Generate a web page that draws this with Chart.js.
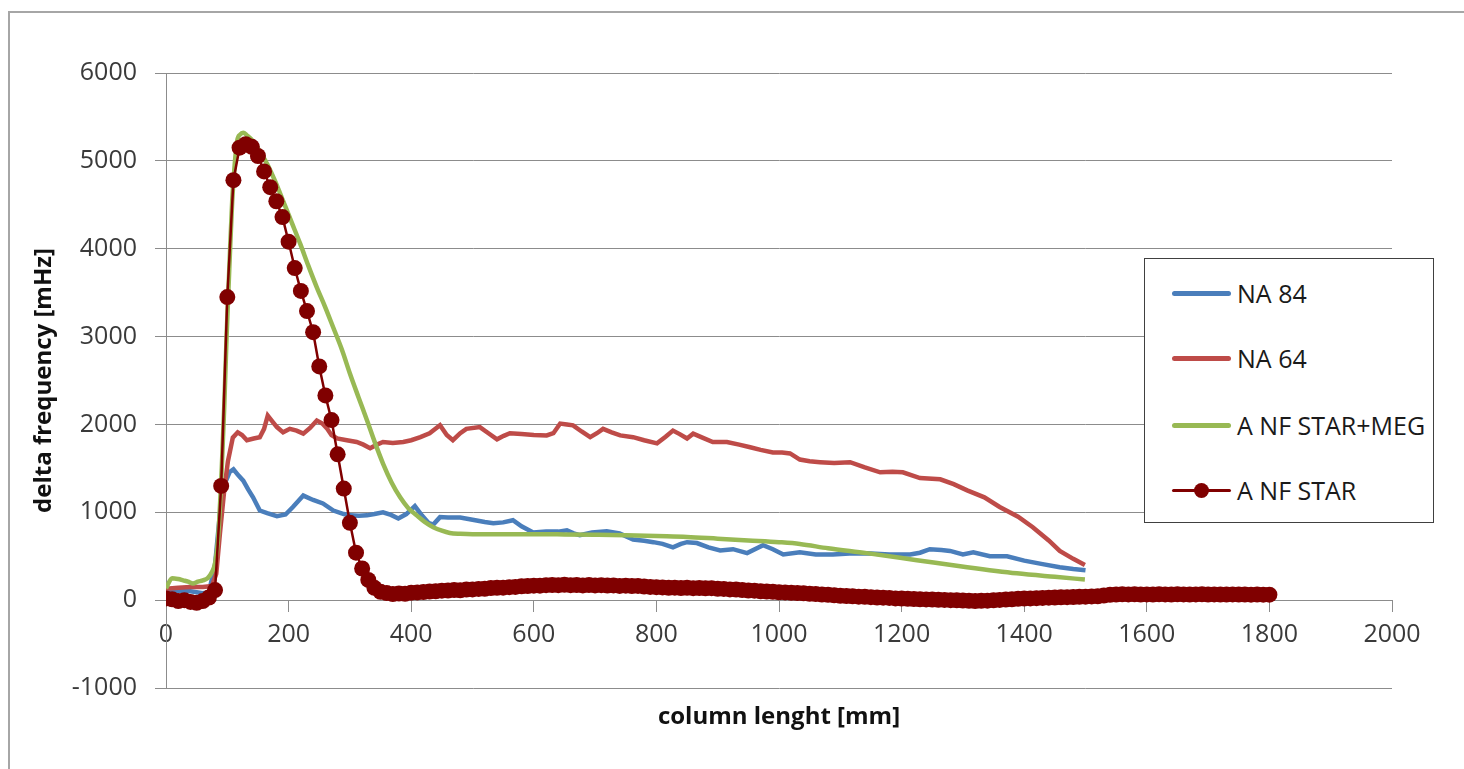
<!DOCTYPE html>
<html>
<head>
<meta charset="utf-8">
<script src="https://cdn.jsdelivr.net/npm/chart.js@4.4.1/dist/chart.umd.min.js"></script>
<style>
  html, body { margin: 0; padding: 0; background: #fff; overflow: hidden; }
  #wrap { position: relative; width: 1464px; height: 769px; }
  #frame { position: absolute; left: 8px; top: 11px; width: 1500px; height: 800px; border: 2px solid #a6a6a6; }
  #chart { position: absolute; left: 0; top: 0; }
  #legend {
    position: absolute; left: 1144px; top: 258px; width: 288px; height: 263px;
    border: 1.5px solid #404040; background: #fff;
    font-family: 'Open Sans', sans-serif; font-size: 25px; color: #1a1a1a;
  }
  .item { position: absolute; left: 27px; height: 34px; display: flex; align-items: center; }
  .swatch { position: relative; width: 59px; height: 34px; margin-right: 6px; }
  .swatch .ln { position: absolute; left: 0; right: 0; top: 50%; border-radius: 3px; }
  .swatch .dot { position: absolute; left: 50%; top: 50%; border-radius: 50%; }
</style>
</head>
<body>
<div id="wrap">
  <div id="frame"></div>
  <canvas id="chart" width="1464" height="769"></canvas>
  <div id="legend"></div>
</div>
<script>
// NA 84
const na84X = [0, 20, 40, 60, 70, 80, 88, 96, 104, 110, 118, 126, 134, 142, 153, 165, 181, 195, 207, 224,
  240, 256, 273, 290, 300, 315, 328, 340, 354, 367, 379, 392, 406, 418, 428, 436, 447, 460, 480, 500,
  520, 534, 550, 566, 580, 599, 620, 640, 654, 665, 675, 695, 719, 740, 762, 780, 795, 810, 827, 840,
  850, 866, 885, 904, 925, 948, 974, 990, 1007, 1034, 1060, 1088, 1115, 1143, 1180, 1214, 1230, 1246, 1265, 1279,
  1300, 1317, 1344, 1372, 1400, 1430, 1458, 1480, 1500];
const na84Y = [100, 110, 100, 80, 90, 400, 990, 1330, 1460, 1490, 1420, 1360, 1260, 1170, 1020, 990, 955, 975, 1060, 1190,
  1140, 1100, 1020, 980, 965, 960, 965, 980, 1000, 970, 930, 980, 1070, 960, 880, 860, 945, 940, 940, 915,
  890, 875, 885, 910, 840, 770, 780, 780, 795, 760, 740, 770, 785, 760, 690, 675, 660, 640, 600, 640,
  660, 650, 600, 565, 580, 535, 625, 580, 520, 545, 520, 520, 530, 535, 520, 520, 540, 580, 570, 560,
  520, 545, 500, 500, 450, 410, 375, 355, 340];

// NA 64
const na64X = [0, 20, 40, 60, 75, 82, 88, 95, 101, 109, 117, 124, 132, 143, 153, 160, 166, 174, 181, 191,
  202, 213, 224, 235, 246, 255, 263, 270, 279, 295, 311, 322, 333, 344, 354, 370, 387, 400, 415, 430,
  447, 458, 468, 480, 490, 512, 526, 540, 551, 561, 580, 600, 621, 632, 643, 654, 664, 678, 692, 703,
  713, 727, 741, 762, 780, 801, 815, 827, 838, 850, 860, 875, 892, 915, 935, 953, 970, 990, 1005, 1018,
  1034, 1050, 1067, 1090, 1116, 1140, 1165, 1185, 1202, 1230, 1263, 1285, 1307, 1335, 1360, 1390, 1414, 1440, 1458, 1480,
  1499];
const na64Y = [130, 140, 150, 150, 160, 300, 760, 1250, 1580, 1850, 1910, 1880, 1820, 1840, 1855, 1950, 2100, 2030, 1970, 1910,
  1950, 1930, 1895, 1960, 2045, 2010, 1950, 1880, 1840, 1820, 1800, 1770, 1730, 1770, 1800, 1790, 1800, 1820, 1855, 1900,
  1990, 1880, 1820, 1900, 1950, 1970, 1900, 1830, 1870, 1900, 1890, 1880, 1875, 1900, 2010, 2000, 1990, 1920, 1855, 1900,
  1950, 1910, 1875, 1855, 1820, 1785, 1860, 1930, 1890, 1840, 1895, 1850, 1800, 1800, 1770, 1740, 1710, 1680, 1680, 1670,
  1600, 1580, 1570, 1560, 1570, 1510, 1455, 1460, 1455, 1390, 1375, 1320, 1250, 1170, 1060, 950, 830, 680, 560, 470,
  400];

// A NF STAR+MEG
const megX = [0, 10, 20, 28, 36, 44, 52, 60, 68, 75, 80, 85, 91, 95, 99, 104, 108, 112, 116, 121,
  126, 132, 142, 153, 165, 178, 191, 205, 219, 232, 246, 260, 273, 287, 300, 314, 328, 341, 354, 368,
  382, 395, 409, 422, 436, 450, 463, 480, 500, 550, 600, 650, 700, 750, 800, 850, 900, 950, 1000, 1034,
  1080, 1143, 1225, 1307, 1388, 1450, 1499];
const megY = [135, 250, 240, 225, 210, 190, 210, 225, 250, 320, 420, 700, 1510, 2200, 3030, 3900, 4545, 4950, 5225, 5300,
  5320, 5290, 5225, 5110, 4965, 4770, 4545, 4300, 4055, 3810, 3560, 3330, 3100, 2850, 2580, 2310, 2045, 1790, 1555, 1340,
  1170, 1050, 965, 890, 830, 790, 765, 755, 750, 750, 750, 748, 745, 740, 730, 720, 700, 680, 660, 640,
  590, 535, 455, 375, 305, 265, 235];

// A NF STAR
const starX = [
  0, 10, 20, 30, 40, 50, 60, 70, 80, 90,
  100, 110, 120, 130, 140, 150, 160, 170, 180, 190,
  200, 210, 220, 230, 240, 250, 260, 270, 280, 290,
  300, 310, 320, 330, 340, 350, 360, 370, 380, 390,
  400, 410, 420, 430, 440, 450, 460, 470, 480, 490,
  500, 510, 520, 530, 540, 550, 560, 570, 580, 590,
  600, 610, 620, 630, 640, 650, 660, 670, 680, 690,
  700, 710, 720, 730, 740, 750, 760, 770, 780, 790,
  800, 810, 820, 830, 840, 850, 860, 870, 880, 890,
  900, 910, 920, 930, 940, 950, 960, 970, 980, 990,
  1000, 1010, 1020, 1030, 1040, 1050, 1060, 1070, 1080, 1090,
  1100, 1110, 1120, 1130, 1140, 1150, 1160, 1170, 1180, 1190,
  1200, 1210, 1220, 1230, 1240, 1250, 1260, 1270, 1280, 1290,
  1300, 1310, 1320, 1330, 1340, 1350, 1360, 1370, 1380, 1390,
  1400, 1410, 1420, 1430, 1440, 1450, 1460, 1470, 1480, 1490,
  1500, 1510, 1520, 1530, 1540, 1550, 1560, 1570, 1580, 1590,
  1600, 1610, 1620, 1630, 1640, 1650, 1660, 1670, 1680, 1690,
  1700, 1710, 1720, 1730, 1740, 1750, 1760, 1770, 1780, 1790,
  1800];
const starY = [
  20, 10, -10, 0, -20, -30, -10, 30, 115, 1300,
  3450, 4780, 5150, 5190, 5160, 5055, 4880, 4700, 4540, 4360,
  4080, 3780, 3520, 3290, 3050, 2660, 2330, 2050, 1660, 1270,
  880, 540, 360, 230, 140, 95, 80, 70, 75, 72,
  85, 88, 92, 98, 100, 108, 110, 115, 112, 120,
  122, 128, 130, 138, 140, 142, 148, 150, 158, 160,
  165, 165, 170, 172, 170, 175, 170, 172, 168, 172,
  168, 170, 166, 168, 162, 165, 160, 162, 155, 150,
  148, 145, 140, 142, 138, 140, 136, 138, 134, 136,
  130, 128, 122, 120, 115, 110, 108, 100, 98, 95,
  90, 88, 84, 80, 78, 72, 70, 64, 60, 55,
  50, 46, 44, 40, 38, 34, 30, 28, 25, 20,
  18, 15, 12, 10, 8, 6, 4, 2, 0, -2,
  -5, -8, -10, -8, -6, -2, 2, 6, 10, 15,
  18, 20, 22, 25, 28, 30, 32, 34, 36, 38,
  40, 42, 44, 52, 60, 64, 66, 65, 66, 64,
  65, 64, 66, 65, 64, 66, 65, 64, 65, 66,
  64, 65, 63, 64, 65, 63, 64, 62, 63, 62,
  62];

const xMin = 0, xMax = 2000, xStep = 200;
const yMin = -1000, yMax = 6000, yStep = 1000;

const gridColor = '#8c8c8c';
const tickColor = '#3a3a3a';
const fontFamily = "'Open Sans', sans-serif";

function pts(xs, ys) {
  return xs.map((x, i) => ({ x: x, y: ys[i] }));
}

// plain numbers, no thousands separator
const plainTick = function(value) {
  return String(value);
};

const chart = new Chart(document.getElementById('chart'), {
  type: 'line',
  data: {
    datasets: [
      {
        label: 'NA 84',
        data: pts(na84X, na84Y),
        borderColor: '#4a7ebb',
        borderWidth: 4.5,
        pointRadius: 0,
        order: 3
      },
      {
        label: 'NA 64',
        data: pts(na64X, na64Y),
        borderColor: '#be4b48',
        borderWidth: 4.5,
        pointRadius: 0,
        order: 2
      },
      {
        label: 'A NF STAR+MEG',
        data: pts(megX, megY),
        borderColor: '#98b954',
        borderWidth: 4.5,
        pointRadius: 0,
        cubicInterpolationMode: 'monotone',
        order: 1
      },
      {
        label: 'A NF STAR',
        data: pts(starX, starY),
        borderColor: '#800000',
        backgroundColor: '#800000',
        borderWidth: 2.5,
        pointRadius: 8,
        pointBorderWidth: 0,
        pointBackgroundColor: '#800000',
        order: 0
      }
    ]
  },
  options: {
    responsive: false,
    animation: false,
    devicePixelRatio: 1,
    layout: { padding: { top: 73, right: 72, bottom: 81, left: 0 } },
    plugins: {
      legend: { display: false },
      tooltip: { enabled: false }
    },
    scales: {
      x: {
        type: 'linear',
        min: xMin,
        max: xMax,
        position: { y: 0 },
        ticks: { stepSize: xStep, padding: 9, color: tickColor, font: { family: fontFamily, size: 25 }, callback: plainTick },
        grid: { drawOnChartArea: false, drawTicks: true, tickLength: 11, color: gridColor },
        border: { color: gridColor, width: 1 },
        title: {
          display: true,
          text: 'column lenght [mm]',
          color: '#111',
          font: { family: fontFamily, size: 24, weight: 'bold' },
          padding: { top: 44, bottom: 0 }
        }
      },
      y: {
        min: yMin,
        max: yMax,
        ticks: { stepSize: yStep, padding: 18, color: tickColor, font: { family: fontFamily, size: 25 }, callback: plainTick },
        grid: { color: gridColor, tickLength: 11 },
        border: { color: gridColor, width: 1 },
        title: {
          display: true,
          text: 'delta frequency [mHz]',
          color: '#111',
          font: { family: fontFamily, size: 24, weight: 'bold' },
          padding: { top: 30, bottom: 0 }
        },
        afterFit: function(scale) {
          scale.width = 166;
        }
      }
    }
  }
});

// legend box drawn as html, built from the chart's datasets
function buildLegend(chart) {
  const box = document.getElementById('legend');
  const rowTops = [17, 82, 149, 214];
  chart.data.datasets.forEach((ds, i) => {
    const item = document.createElement('div');
    item.className = 'item';
    item.style.top = rowTops[i] + 'px';
    const sw = document.createElement('div');
    sw.className = 'swatch';
    const ln = document.createElement('div');
    ln.className = 'ln';
    const lw = ds.pointRadius ? 3 : 5;
    ln.style.height = lw + 'px';
    ln.style.marginTop = (-lw / 2) + 'px';
    ln.style.background = ds.borderColor;
    sw.appendChild(ln);
    if (ds.pointRadius) {
      const dot = document.createElement('div');
      dot.className = 'dot';
      dot.style.width = dot.style.height = '15px';
      dot.style.margin = '-7.5px 0 0 -7.5px';
      dot.style.background = ds.pointBackgroundColor;
      sw.appendChild(dot);
    }
    const txt = document.createElement('span');
    txt.textContent = ds.label;
    item.appendChild(sw);
    item.appendChild(txt);
    box.appendChild(item);
  });
}
buildLegend(chart);
</script>
</body>
</html>
